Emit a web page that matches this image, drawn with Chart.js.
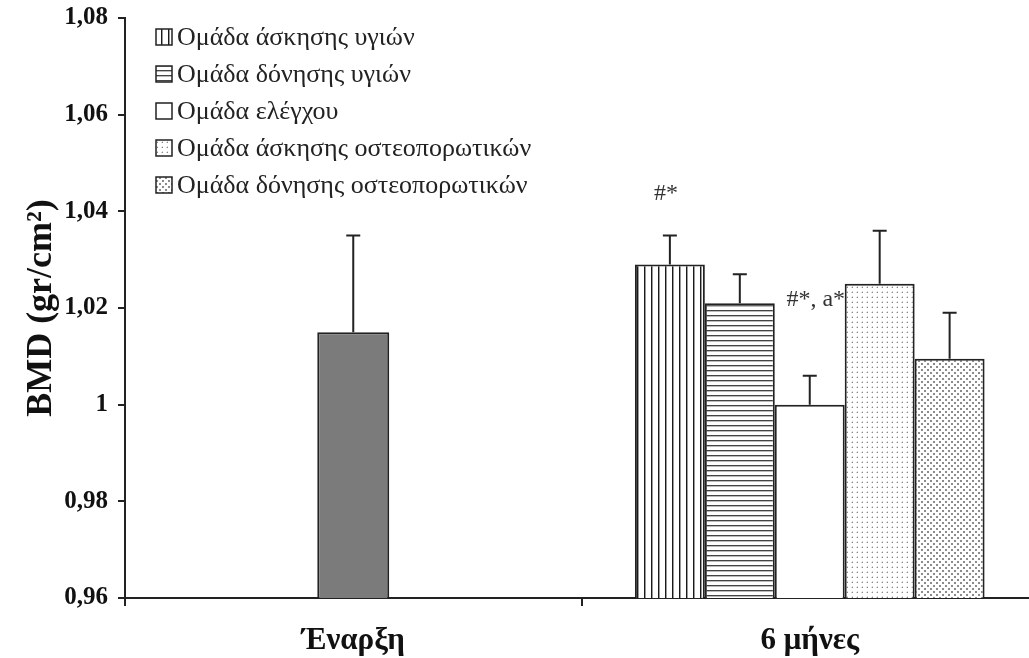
<!DOCTYPE html>
<html>
<head>
<meta charset="utf-8">
<script src="https://cdn.jsdelivr.net/npm/chart.js@4"></script>
<style>
  html, body { margin: 0; padding: 0; background: #fff; overflow: hidden; }
  #wrap { width: 1042px; height: 658px; position: relative; }
</style>
</head>
<body>
<div id="wrap"><canvas id="bmd-chart"></canvas></div>
<script>
// BMD data ==========================================
const categories = ["Έναρξη", "6 μήνες"];
const baselineValues = [1.015, null];
const baselineErr = [0.020, null];
const groupLabels = [
  "Ομάδα άσκησης υγιών",
  "Ομάδα δόνησης υγιών",
  "Ομάδα ελέγχου",
  "Ομάδα άσκησης οστεοπορωτικών",
  "Ομάδα δόνησης οστεοπορωτικών",
];
const groupValues = [1.029, 1.021, 1.0, 1.025, 1.0095];
const groupErr = [0.006, 0.006, 0.006, 0.011, 0.0095];
const groupNotes = ["#*", "", "#*, a*", "", ""];
const yTickValues = [0.96, 0.98, 1, 1.02, 1.04, 1.06, 1.08];
const yTickLabels = ["0,96", "0,98", "1", "1,02", "1,04", "1,06", "1,08"];

const SERIF = "'Liberation Serif', 'Times New Roman', serif";
const INK = "#222";

// fill patterns ======================================
function makePattern(w, h, draw) {
  const c = document.createElement("canvas");
  c.width = w;
  c.height = h;
  const g = c.getContext("2d");
  g.fillStyle = "#fff";
  g.fillRect(0, 0, w, h);
  draw(g);
  return g.createPattern(c, "repeat");
}

const vStripes = makePattern(7, 1, (g) => {
  g.fillStyle = "#1a1a1a";
  g.fillRect(0, 0, 1, 1);
  g.fillStyle = "#9a9a9a";
  g.fillRect(1, 0, 1, 1);
});
const hStripes = makePattern(1, 5, (g) => {
  g.fillStyle = "#444";
  g.fillRect(0, 0, 1, 1);
  g.fillStyle = "#bbb";
  g.fillRect(0, 1, 1, 1);
});
const sparseDots = makePattern(5, 5, (g) => {
  g.fillStyle = "#888";
  g.fillRect(2, 2, 1, 1);
  g.fillStyle = "#d4d4d4";
  g.fillRect(1, 2, 1, 1);
  g.fillRect(2, 1, 1, 1);
});
const denseDots = makePattern(6, 6, (g) => {
  g.fillStyle = "#8c8c8c";
  g.fillRect(0, 0, 2, 2);
  g.fillRect(3, 3, 2, 2);
});
const groupFills = [vStripes, hStripes, "#ffffff", sparseDots, denseDots];

// datasets ============================================
const datasets = [
  {
    label: "Έναρξη",
    data: baselineValues,
    errors: baselineErr,
    backgroundColor: "#7b7b7b",
    maxBarThickness: 72,
  },
];
groupLabels.forEach((label, i) => {
  datasets.push({
    label: label,
    data: [null, groupValues[i]],
    errors: [null, groupErr[i]],
    note: groupNotes[i],
    backgroundColor: groupFills[i],
  });
});

// plugin block: error bars (upper whisker only)
const errorBars = {
  id: "errorBars",
  afterDatasetsDraw(chart) {
    const { ctx, scales: { y } } = chart;
    ctx.save();
    ctx.strokeStyle = INK;
    ctx.lineWidth = 2;
    chart.data.datasets.forEach((ds, i) => {
      chart.getDatasetMeta(i).data.forEach((bar, j) => {
        const v = ds.data[j];
        if (v == null) return;
        const top = y.getPixelForValue(v + ds.errors[j]);
        ctx.beginPath();
        ctx.moveTo(bar.x, bar.y);
        ctx.lineTo(bar.x, top);
        ctx.moveTo(bar.x - 7, top);
        ctx.lineTo(bar.x + 7, top);
        ctx.stroke();
      });
    });
    ctx.restore();
  },
};

// plugin block: significance marks
const sigNotes = {
  id: "sigNotes",
  afterDatasetsDraw(chart) {
    const { ctx, scales: { y } } = chart;
    const lift = { "#*": [-4, 42], "#*, a*": [6, 76] };
    ctx.save();
    ctx.font = "24px " + SERIF;
    ctx.fillStyle = "#333";
    ctx.textAlign = "center";
    ctx.textBaseline = "middle";
    chart.data.datasets.forEach((ds, i) => {
      if (!ds.note) return;
      const bar = chart.getDatasetMeta(i).data[1];
      const top = y.getPixelForValue(ds.data[1] + ds.errors[1]);
      const off = lift[ds.note];
      ctx.fillText(ds.note, bar.x + off[0], top - off[1]);
    });
    ctx.restore();
  },
};

// plugin block: legend inside plot
const legendBox = {
  id: "legendBox",
  afterDraw(chart) {
    const ctx = chart.ctx;
    ctx.save();
    ctx.font = "26px " + SERIF;
    ctx.textBaseline = "middle";
    chart.data.datasets.slice(1).forEach((ds, i) => {
      const cy = 37 + i * 37;
      ctx.fillStyle = ds.backgroundColor;
      ctx.fillRect(156, cy - 8, 16, 16);
      ctx.strokeStyle = INK;
      ctx.lineWidth = 1.5;
      ctx.strokeRect(156, cy - 8, 16, 16);
      ctx.fillStyle = INK;
      ctx.fillText(ds.label, 177, cy + 1);
    });
    ctx.restore();
  },
};

// config
const bmdChart = {
  type: "bar",
  data: { labels: categories, datasets: datasets },
  options: {
    responsive: true,
    maintainAspectRatio: false,
    animation: false,
    layout: { padding: { left: 0, right: 4, top: 18, bottom: 0 } },
    datasets: {
      bar: {
        skipNull: true,
        categoryPercentage: 0.766,
        barPercentage: 1,
        borderWidth: 2,
        borderColor: INK,
      },
    },
    plugins: {
      legend: { display: false },
      tooltip: { enabled: false },
    },
    scales: {
      x: {
        grid: {
          offset: true,
          drawOnChartArea: false,
          tickLength: 8,
          color: INK,
          lineWidth: 2,
        },
        border: { color: INK, width: 2 },
        ticks: {
          color: "#111",
          padding: 16,
          maxRotation: 0,
          font: { family: SERIF, size: 31, weight: "bold" },
        },
        afterFit(s) {
          s.height = 60;
          s.paddingLeft = 0;
          s.paddingRight = 0;
        },
      },
      y: {
        min: 0.96,
        max: 1.08,
        afterBuildTicks(s) {
          s.ticks = yTickValues.map((v) => ({ value: v }));
        },
        ticks: {
          color: "#111",
          padding: 10,
          font: { family: SERIF, size: 25, weight: "bold" },
          callback: (v, i) => yTickLabels[i],
        },
        grid: {
          drawOnChartArea: false,
          tickLength: 7,
          color: INK,
          lineWidth: 2,
        },
        border: { color: INK, width: 2 },
        title: {
          display: true,
          text: "BMD (gr/cm²)",
          color: "#111",
          padding: { top: 20, bottom: 0 },
          font: { family: SERIF, size: 36, weight: "bold" },
        },
        afterFit(s) {
          s.width = 125;
          s.paddingTop = 0;
          s.paddingBottom = 0;
        },
      },
    },
  },
  plugins: [errorBars, sigNotes, legendBox],
};

// render init block
const myChart = new Chart(document.getElementById("bmd-chart"), bmdChart);
</script>
</body>
</html>
